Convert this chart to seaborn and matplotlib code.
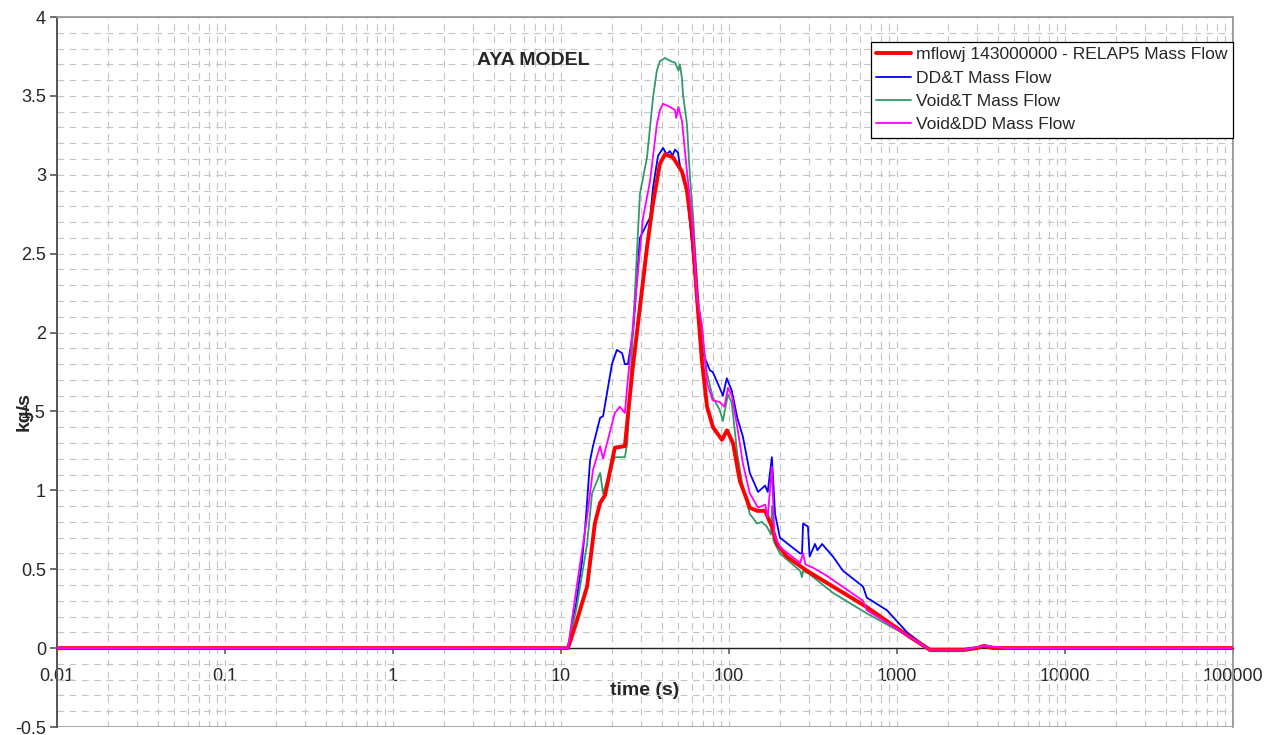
import numpy as np
import pandas as pd
import matplotlib
matplotlib.use("Agg")
import matplotlib.pyplot as plt
import seaborn as sns
from matplotlib.ticker import MultipleLocator, LogLocator, FuncFormatter, NullFormatter
from matplotlib.patches import Rectangle

# Data (time in s, mass flow in kg/s)
relap_t = [0.01, 11, 12.4, 13.3, 14.3, 15.9, 17.1, 18.3, 20.9, 24.0, 26.5, 32.5, 35.3, 38.8,
           41.6, 46.4, 52.5, 56.2, 60.2, 64.5, 69, 74, 80.3, 90.8, 97.3, 105.6, 116, 133, 147,
           164, 180, 193, 221, 291, 416, 661, 1194, 1570, 2500, 3000, 3300, 3700, 4500, 100000]
relap_v = [0, 0, 0.17, 0.28, 0.39, 0.79, 0.92, 0.97, 1.27, 1.28, 1.74, 2.54, 2.82, 3.07,
           3.13, 3.11, 3.02, 2.90, 2.65, 2.22, 1.82, 1.53, 1.40, 1.32, 1.38, 1.30, 1.06, 0.89, 0.87,
           0.87, 0.77, 0.66, 0.58, 0.49, 0.39, 0.26, 0.07, -0.01, -0.01, 0.0, 0.015, 0.0, 0.0, 0.0]

ddt_t = [0.01, 11, 12.3, 13.3, 13.9, 14.9, 15.5, 17.1, 17.8, 20.1, 21.5, 23.1, 24, 25, 26.9,
         29.5, 33.9, 35.3, 37.8, 40.5, 42.5, 44.5, 46, 47.7, 49.7, 51, 53.2, 56, 60.2, 65.3, 70,
         77, 80, 88, 92, 97, 104, 112, 121, 133, 149, 164, 170, 180, 188, 201, 265, 272, 276,
         295, 302, 325, 336, 358, 416, 477, 628, 661, 871, 1148, 1570, 2500, 3300, 4500, 100000]
ddt_v = [0, 0, 0.28, 0.54, 0.75, 1.19, 1.28, 1.46, 1.47, 1.80, 1.89, 1.87, 1.80, 1.80, 2.01,
         2.60, 2.73, 2.92, 3.12, 3.17, 3.13, 3.15, 3.12, 3.16, 3.14, 3.06, 3.00, 2.90, 2.56, 2.14,
         1.87, 1.76, 1.75, 1.65, 1.60, 1.71, 1.63, 1.46, 1.34, 1.11, 0.99, 1.03, 0.99, 1.21, 0.85,
         0.70, 0.60, 0.60, 0.79, 0.77, 0.58, 0.66, 0.62, 0.66, 0.58, 0.49, 0.39, 0.32, 0.24, 0.10,
         -0.01, -0.01, 0.015, 0, 0]

voidt_t = [0.01, 11, 12.4, 14.3, 15.3, 17.1, 17.8, 20.9, 24, 24.8, 29.5, 32.5, 35.3, 37.2,
           38.8, 41.6, 45, 47.8, 50, 51, 52.5, 53.2, 56.2, 58.6, 61, 65.3, 74, 80, 88, 92, 98.6,
           104, 112, 121, 133, 147, 157, 168, 178, 180, 184, 201, 265, 272, 276, 300, 416, 661,
           1194, 1570, 2500, 3300, 4500, 100000]
voidt_v = [0, 0, 0.26, 0.66, 0.98, 1.11, 0.98, 1.21, 1.21, 1.30, 2.88, 3.11, 3.49, 3.66,
           3.72, 3.74, 3.72, 3.71, 3.66, 3.70, 3.61, 3.51, 3.32, 2.98, 2.75, 2.22, 1.74, 1.59, 1.51,
           1.44, 1.61, 1.55, 1.23, 1.02, 0.85, 0.79, 0.80, 0.77, 0.72, 0.90, 0.68, 0.60, 0.49, 0.45,
           0.49, 0.47, 0.35, 0.22, 0.07, -0.02, -0.02, 0.01, 0, 0]

voiddd_t = [0.01, 11, 12.4, 14.3, 15.5, 17.1, 17.8, 20.9, 22.4, 24, 25, 30.8, 33.9, 37.2, 38.8,
            40.5, 44.5, 47.7, 48.5, 50, 52.5, 53.2, 56.2, 60.2, 64.5, 69, 74, 80, 88, 94, 98.6,
            104, 112, 121, 133, 149, 164, 170, 180, 186, 201, 265, 276, 285, 316, 380, 628, 661,
            1194, 1570, 2500, 3300, 4500, 100000]
voiddd_v = [0, 0, 0.39, 0.83, 1.13, 1.28, 1.20, 1.49, 1.53, 1.49, 1.70, 2.73, 2.96, 3.32, 3.41,
            3.45, 3.43, 3.41, 3.36, 3.43, 3.34, 3.28, 3.02, 2.73, 2.22, 2.05, 1.68, 1.57, 1.56, 1.53,
            1.65, 1.60, 1.40, 1.17, 0.98, 0.89, 0.91, 0.83, 1.15, 0.72, 0.64, 0.54, 0.60, 0.53, 0.51,
            0.46, 0.30, 0.24, 0.07, -0.01, -0.01, 0.015, 0, 0]

labels = ["mflowj 143000000 - RELAP5 Mass Flow", "DD&T Mass Flow",
          "Void&T Mass Flow", "Void&DD Mass Flow"]
colors = ["#FF0000", "#0000FF", "#339966", "#FF00FF"]

sns.set_theme(style="white")
plt.rcParams['font.family'] = ['Liberation Sans', 'DejaVu Sans']

fig = plt.figure(figsize=(12.81, 7.35), dpi=100)
ax = fig.add_axes([57 / 1281, 1 - 727 / 735, 1176 / 1281, 710 / 735])

series = [(relap_t, relap_v), (ddt_t, ddt_v), (voidt_t, voidt_v), (voiddd_t, voiddd_v)]
widths = [2.8, 1.3, 1.3, 1.3]
zorders = [5, 3, 4, 6]
for (t, v), lab, col, lw, zo in zip(series, labels, colors, widths, zorders):
    df = pd.DataFrame({"time": t, "flow": v})
    sns.lineplot(data=df, x="time", y="flow", ax=ax, color=col, linewidth=lw,
                 label=lab, estimator=None, sort=False, zorder=zo)

ax.set_xscale("log")
ax.set_xlim(0.01, 100000)
ax.set_ylim(-0.5, 4)

# axes / ticks
ax.xaxis.set_major_locator(LogLocator(base=10, numticks=20))
ax.xaxis.set_minor_locator(LogLocator(base=10, subs=np.arange(2, 10), numticks=100))
ax.xaxis.set_major_formatter(FuncFormatter(lambda x, p: "%g" % x))
ax.xaxis.set_minor_formatter(NullFormatter())
ax.yaxis.set_major_locator(MultipleLocator(0.5))
ax.yaxis.set_minor_locator(MultipleLocator(0.1))
ax.yaxis.set_major_formatter(FuncFormatter(lambda y, p: "%g" % y))

ax.grid(which="both", axis="both", color="#c4c4c4", linestyle=(0, (6, 5)), linewidth=0.8)
ax.set_axisbelow(True)

ax.spines["bottom"].set_position(("data", 0))
ax.spines["bottom"].set_color("#222222")
ax.spines["bottom"].set_linewidth(1.0)
ax.spines["left"].set_color("#555555")
ax.spines["left"].set_linewidth(1.4)
ax.spines["top"].set_color("#999999")
ax.spines["right"].set_color("#999999")
ax.add_patch(Rectangle((0, 0), 1, 1, transform=ax.transAxes, fill=False,
                       edgecolor="#999999", linewidth=1.2, zorder=1))

ax.tick_params(axis="both", which="minor", length=0)
ax.tick_params(axis="x", which="major", direction="out", length=4, width=1.2,
               color="#666666", labelsize=13, pad=10, bottom=True)
ax.tick_params(axis="y", which="major", direction="out", length=5, width=1.2,
               color="#555555", labelsize=13, pad=3, left=True)

ax.set_xlabel("time (s)", fontsize=14, fontweight="bold", labelpad=-2)
ax.set_ylabel("kg/s", fontsize=14, fontweight="bold")
ax.yaxis.set_label_coords(-0.021, 0.444)

ax.text(0.405, 0.939, "AYA MODEL", transform=ax.transAxes, ha="center", va="center",
        fontsize=14, fontweight="bold")

leg = ax.legend(loc="upper right", bbox_to_anchor=(1.0, 0.965), borderaxespad=0,
                fontsize=12.6, frameon=True, fancybox=False, framealpha=1,
                edgecolor="black", handlelength=2.0, labelspacing=0.46,
                handletextpad=0.3, borderpad=0.3)
leg.get_frame().set_linewidth(0.9)

plt.savefig("out.png", dpi=100)
